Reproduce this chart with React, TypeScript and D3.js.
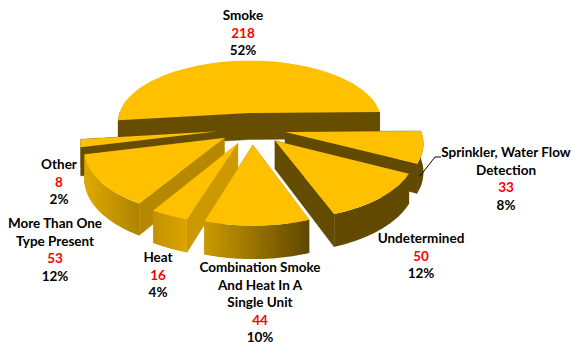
import React from "react";
import * as d3 from "d3";

const categories = ["Smoke", "Sprinkler", "Undetermined", "Combination", "Heat", "More", "Other"];
const counts = [218, 33, 50, 44, 16, 53, 8];
const percents = ["52%", "8%", "12%", "10%", "4%", "12%", "2%"];
const labelLines = [
  ["Smoke"],
  ["Sprinkler, Water Flow", "Detection"],
  ["Undetermined"],
  ["Combination Smoke", "And Heat In A", "Single Unit"],
  ["Heat"],
  ["More Than One", "Type Present"],
  ["Other"],
];
// label anchors: centre x and first baseline
const labelX = [243, 506, 421, 260, 158, 55, 59];
const labelY = [20, 157, 243, 272, 262, 228, 169];

const deg = Math.PI / 180;
const rotation = -1 * deg;
const CX = 252, CY = 128.4, A = 135, B = 63.9, D = 7, E = 0.25, H = 27.5;
const drawOrder = [0, 6, 1, 5, 2, 4, 3];
const topFill = "#FFC000";
// brightness of the wall at [left, right] of outer wall, and cut walls
const outerShade: Record<string, [number, number]> = {
  Smoke: [0.4, 0.4], Sprinkler: [0.38, 0.38], Undetermined: [0.38, 0.38],
  Combination: [0.8, 0.37], Heat: [0.76, 0.86], More: [0.88, 0.68], Other: [0.4, 0.4],
};
const cutShade: Record<string, number> = {
  Smoke: 0.4, Sprinkler: 0.38, Undetermined: 0.39, Combination: 0.7, Heat: 0.8, More: 0.71, Other: 0.4,
};
const shade = (k: number) => d3.rgb(255 * k, 192 * k, 0).formatHex();

const arcs = d3.pie<number>().sort(null).startAngle(rotation - (218 / 422) * 2 * Math.PI + Math.PI / 2).endAngle(rotation - (218 / 422) * 2 * Math.PI + Math.PI / 2 + 2 * Math.PI)(counts);

type P = [number, number];
function project(X: number, Y: number, drop = 0): P {
  const d = 1 / (1 + Y / D);
  return [CX + A * X * d, CY - B * Y * d + H * drop * d];
}
const pathOf = d3.line<P>().x((p) => p[0]).y((p) => p[1]);

export default function App() {
  return (
    <svg width={572} height={348} style={{ position: "absolute", left: 0, top: 0, background: "#fff" }} fontFamily="Lato, sans-serif" fontWeight={700} fontSize={13.5}>
      <defs>
        {arcs.map((a, i) => {
          const name = categories[i];
          const mid = (a.startAngle + a.endAngle) / 2;
          const ox = E * Math.sin(mid), oy = E * Math.cos(mid);
          const xs = d3.range(0, 21).map((j) => {
            const t = a.startAngle + ((a.endAngle - a.startAngle) * j) / 20;
            return project(ox + Math.sin(t), oy + Math.cos(t))[0];
          });
          const [l, r] = outerShade[name];
          return (
            <linearGradient key={name} id={`g${i}`} gradientUnits="userSpaceOnUse" x1={d3.min(xs)} x2={d3.max(xs)} y1={0} y2={0}>
              <stop offset="0" stopColor={shade(l)} />
              <stop offset="1" stopColor={shade(r)} />
            </linearGradient>
          );
        })}
      </defs>
      {drawOrder.map((i) => {
        const a = arcs[i];
        const name = categories[i];
        const mid = (a.startAngle + a.endAngle) / 2;
        const ox = E * Math.sin(mid), oy = E * Math.cos(mid);
        const at = (t: number, r = 1, drop = 0) => project(ox + r * Math.sin(t), oy + r * Math.cos(t), drop);
        const ts = d3.range(0, 49).map((j) => a.startAngle + ((a.endAngle - a.startAngle) * j) / 48);
        const apex = at(0, 0);
        const apexB = at(0, 0, 1);
        const top: P[] = [apex, ...ts.map((t) => at(t))];
        const front = ts.filter((t) => Math.cos(t) <= 0.02);
        const wall: P[] = [...front.map((t) => at(t)), ...front.slice().reverse().map((t) => at(t, 1, 1))];
        const cut = (t: number): P[] => [apex, at(t), at(t, 1, 1), apexB];
        return (
          <g key={name}>
            <path d={pathOf(cut(a.startAngle))! + "Z"} fill={shade(cutShade[name])} stroke={shade(cutShade[name])} strokeWidth={0.4} />
            <path d={pathOf(cut(a.endAngle))! + "Z"} fill={shade(cutShade[name])} stroke={shade(cutShade[name])} strokeWidth={0.4} />
            {wall.length > 2 && <path d={pathOf(wall)! + "Z"} fill={`url(#g${i})`} />}
            <path d={pathOf(top)! + "Z"} fill={topFill} />
          </g>
        );
      })}
      <polyline points="420,176 435,157 441,157" fill="none" stroke="#000" strokeWidth={1} />
      {categories.map((name, i) => {
        const lines = labelLines[i];
        const lh = 17.6;
        return (
          <text key={name} textAnchor="middle" fill="#000">
            {lines.map((s, j) => (
              <tspan key={j} x={labelX[i]} y={labelY[i] + j * lh}>{s}</tspan>
            ))}
            <tspan x={labelX[i]} y={labelY[i] + lines.length * lh} fill="#FF0000">{counts[i]}</tspan>
            <tspan x={labelX[i]} y={labelY[i] + (lines.length + 1) * lh}>{percents[i]}</tspan>
          </text>
        );
      })}
    </svg>
  );
}
